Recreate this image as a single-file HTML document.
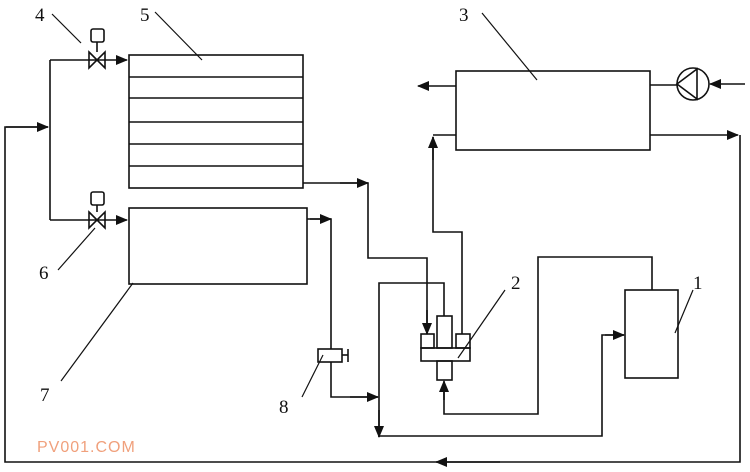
<!DOCTYPE html>
<html><head><meta charset="utf-8"><style>
html,body{margin:0;padding:0;background:#fff;}
svg{display:block;}
text{font-family:"Liberation Serif",serif;font-size:19px;fill:#111;}
</style></head><body>
<svg width="750" height="472" viewBox="0 0 750 472" xmlns="http://www.w3.org/2000/svg">
<defs>
<marker id="a" markerWidth="12" markerHeight="10" refX="11" refY="5" orient="auto" markerUnits="userSpaceOnUse">
<path d="M0,0 L12,5 L0,10 Z" fill="#111"/></marker>
</defs>
<g fill="none" stroke="#111" stroke-width="1.6">
<!-- box 5 -->
<rect x="129" y="55" width="174" height="133"/>
<line x1="129" y1="77" x2="303" y2="77"/>
<line x1="129" y1="98" x2="303" y2="98"/>
<line x1="129" y1="122" x2="303" y2="122"/>
<line x1="129" y1="144" x2="303" y2="144"/>
<line x1="129" y1="166" x2="303" y2="166"/>
<!-- box 7 -->
<rect x="129" y="208" width="178" height="76"/>
<!-- box 3 -->
<rect x="456" y="71" width="194" height="79"/>
<!-- box 1 -->
<rect x="625" y="290" width="53" height="88"/>
<!-- device 2 -->
<rect x="421" y="348" width="49" height="13"/>
<rect x="421" y="334" width="13" height="14"/>
<rect x="437" y="316" width="15" height="32"/>
<rect x="456" y="334" width="14" height="14"/>
<rect x="437" y="361" width="15" height="19"/>
<!-- valve 8 -->
<rect x="318" y="349" width="24" height="13"/>
<line x1="342" y1="355" x2="348" y2="355"/>
<line x1="348" y1="349" x2="348" y2="362"/>
<!-- left manifold -->
<polyline points="50,60 50,220"/>
<line x1="50" y1="60" x2="127" y2="60" marker-end="url(#a)"/>
<line x1="50" y1="220" x2="127" y2="220" marker-end="url(#a)"/>
<!-- valves 4 & 6 -->
<rect x="91" y="29" width="13" height="13" rx="2"/>
<line x1="97" y1="42" x2="97" y2="52"/>
<path d="M89,52 L105,68 L105,52 L89,68 Z"/>
<rect x="91" y="192" width="13" height="13" rx="2"/>
<line x1="97" y1="205" x2="97" y2="212"/>
<path d="M89,212 L105,228 L105,212 L89,228 Z"/>
<!-- return loop -->
<polyline points="740,135 740,462 5,462 5,127 48,127" />
<line x1="6" y1="127" x2="48" y2="127" marker-end="url(#a)"/>
<line x1="650" y1="135" x2="738" y2="135" marker-end="url(#a)"/>
<line x1="500" y1="462" x2="436" y2="462" marker-end="url(#a)"/>
<!-- box3 left output -->
<line x1="456" y1="86" x2="418" y2="86" marker-end="url(#a)"/>
<!-- pump -->
<line x1="650" y1="85" x2="677" y2="85"/>
<circle cx="693" cy="84" r="16"/>
<path d="M677,84 L697,69 L697,99 Z"/>
<line x1="745" y1="84" x2="710" y2="84" marker-end="url(#a)"/>
<!-- 2 right -> box 3 -->
<polyline points="462,334 462,232 433,232 433,137"/>
<line x1="433" y1="160" x2="433" y2="137" marker-end="url(#a)"/>
<line x1="433" y1="135" x2="456" y2="135"/>
<!-- box5 -> 2 left -->
<polyline points="303,183 368,183 368,258 427,258 427,334"/>
<line x1="340" y1="183" x2="368" y2="183" marker-end="url(#a)"/>
<line x1="427" y1="310" x2="427" y2="334" marker-end="url(#a)"/>
<!-- 2 center -> down -->
<polyline points="444,316 444,283 379,283 379,437"/>
<line x1="379" y1="410" x2="379" y2="437" marker-end="url(#a)"/>
<!-- box7 -> valve 8 -> -->
<polyline points="307,219 331,219 331,349"/>
<line x1="310" y1="219" x2="331" y2="219" marker-end="url(#a)"/>
<polyline points="331,362 331,397 378,397"/>
<line x1="350" y1="397" x2="378" y2="397" marker-end="url(#a)"/>
<!-- 1 top -> 2 bottom -->
<polyline points="652,290 652,257 538,257 538,414 444,414 444,382"/>
<line x1="444" y1="400" x2="444" y2="381" marker-end="url(#a)"/>
<!-- bottom -> box 1 -->
<polyline points="379,436 602,436 602,335 624,335"/>
<line x1="605" y1="335" x2="624" y2="335" marker-end="url(#a)"/>
<!-- leaders -->
<line x1="52" y1="14" x2="81" y2="43" stroke-width="1.2"/>
<line x1="155" y1="12" x2="202" y2="60" stroke-width="1.2"/>
<line x1="482" y1="13" x2="537" y2="80" stroke-width="1.2"/>
<line x1="505" y1="290" x2="458" y2="358" stroke-width="1.2"/>
<line x1="693" y1="290" x2="675" y2="333" stroke-width="1.2"/>
<line x1="58" y1="270" x2="95" y2="228" stroke-width="1.2"/>
<line x1="61" y1="381" x2="133" y2="283" stroke-width="1.2"/>
<line x1="302" y1="397" x2="323" y2="355" stroke-width="1.2"/>
</g>
<text x="35" y="21">4</text>
<text x="140" y="21">5</text>
<text x="459" y="21">3</text>
<text x="511" y="289">2</text>
<text x="693" y="289">1</text>
<text x="39" y="279">6</text>
<text x="40" y="401">7</text>
<text x="279" y="413">8</text>
<text x="37" y="452" style="font-family:'Liberation Sans',sans-serif;font-size:16px;fill:#f0a07c;letter-spacing:1px">PV001.COM</text>
</svg>
</body></html>
